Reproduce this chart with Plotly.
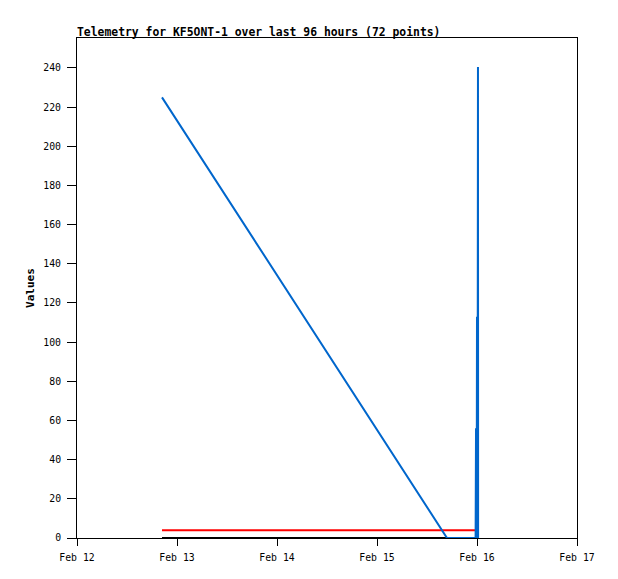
import plotly.graph_objects as go

title_text = "Telemetry for KF5ONT-1 over last 96 hours (72 points)"

# Blue channel
blue_times = ["2024-02-12 20:24", "2024-02-15 16:48", "2024-02-15 23:40", "2024-02-15 23:46",
              "2024-02-15 23:55", "2024-02-16 00:00", "2024-02-16 00:08", "2024-02-16 00:14",
              "2024-02-16 00:16"]
blue_values = [225, 0, 0, 56, 0, 113, 0, 240.5, 0]

# Red channel
red_times = ["2024-02-12 20:24", "2024-02-15 23:31"]
red_values = [4, 4]

# Black channel
black_times = ["2024-02-12 20:24", "2024-02-16 00:16"]
black_values = [0, 0]

tick_dates = ["2024-02-12", "2024-02-13", "2024-02-14", "2024-02-15", "2024-02-16", "2024-02-17"]
tick_labels = ["Feb 12", "Feb 13", "Feb 14", "Feb 15", "Feb 16", "Feb 17"]
y_ticks = list(range(0, 260, 20))

fig = go.Figure()
fig.add_trace(go.Scatter(x=black_times, y=black_values, mode="lines",
                         line=dict(color="#000000", width=2), showlegend=False))
fig.add_trace(go.Scatter(x=red_times, y=red_values, mode="lines",
                         line=dict(color="#ff0000", width=2), showlegend=False))
fig.add_trace(go.Scatter(x=blue_times, y=blue_values, mode="lines",
                         line=dict(color="#0066cc", width=2), showlegend=False))

mono = "DejaVu Sans Mono"
fig.update_layout(
    width=610, height=571,
    margin=dict(l=69, r=41, t=30, b=41),
    paper_bgcolor="white", plot_bgcolor="white",
    title=dict(text="<b>" + title_text + "</b>", x=0, xref="paper", xanchor="left",
               y=1, yref="paper", yanchor="bottom", pad=dict(b=2),
               font=dict(family=mono, size=11.4, color="black")),
    xaxis=dict(type="date", range=["2024-02-12", "2024-02-17"],
               tickvals=tick_dates, ticktext=tick_labels,
               showgrid=False, zeroline=False, showline=True, mirror=True,
               linecolor="black", linewidth=1, ticks="outside", ticklen=7,
               ticklabelstandoff=3,
               tickcolor="black", tickfont=dict(family=mono, size=9.8, color="black")),
    yaxis=dict(range=[0, 255.3], tickvals=y_ticks,
               showgrid=False, zeroline=False, showline=True, mirror=True,
               linecolor="black", linewidth=1, ticks="outside", ticklen=9,
               ticklabelstandoff=4,
               tickcolor="black", tickfont=dict(family=mono, size=9.8, color="black"),
               title=dict(text="<b>Values</b>", font=dict(family=mono, size=11, color="black"),
                          standoff=6)),
)

fig.write_html("out.html")
